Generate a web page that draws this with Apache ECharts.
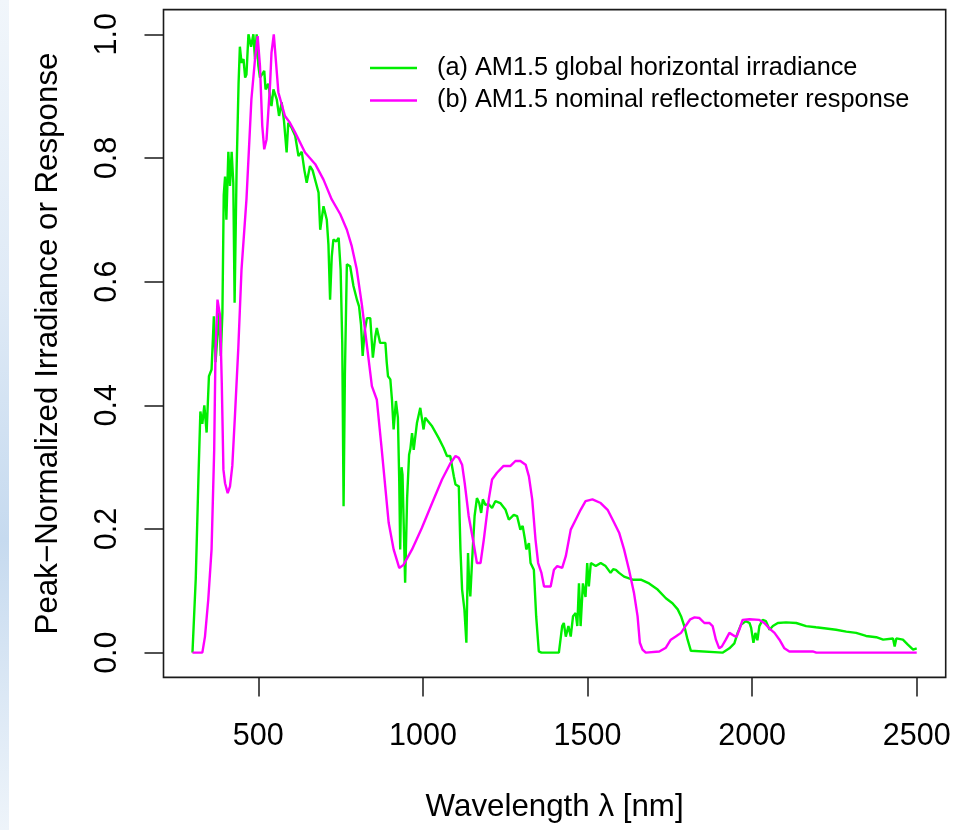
<!DOCTYPE html>
<html>
<head>
<meta charset="utf-8">
<script src="https://cdn.jsdelivr.net/npm/echarts@6/dist/echarts.min.js"></script>
<style>
  html, body { margin: 0; padding: 0; background: #fff; }
  #chart { width: 965px; height: 830px; }
</style>
</head>
<body>
<div id="chart"></div>
<script>
// (a) AM1.5 global horizontal irradiance, peak normalized
const irrWl = [300, 310, 318, 324, 330, 336, 343, 350, 358, 365, 370, 376, 381, 386, 391, 395, 399, 403, 409, 414,
  419, 424, 428, 434, 440, 444, 449, 455, 460, 464, 470, 478, 485, 490, 495, 500, 505, 510, 518, 522,
  530, 540, 546, 556, 563, 571, 578, 586, 591, 600, 612, 622, 632, 640, 647, 657, 665, 675, 683, 688,
  698, 708, 713, 718, 723, 728, 737, 744, 750, 755, 759, 763, 769, 779, 789, 800, 806, 812, 817, 823,
  830, 840, 848, 855, 860, 870, 886, 890, 894, 901, 906, 911, 918, 924, 928, 931, 935, 938, 942, 946,
  952, 958, 962, 967, 972, 982, 992, 997, 1002, 1007, 1012, 1028, 1048, 1063, 1073, 1083, 1094, 1099, 1104, 1109,
  1114, 1119, 1126, 1132, 1137, 1140, 1144, 1149, 1157, 1164, 1171, 1177, 1182, 1190, 1200, 1210, 1220, 1235, 1251, 1261,
  1276, 1286, 1296, 1303, 1310, 1314, 1322, 1327, 1337, 1344, 1352, 1360, 1413, 1423, 1428, 1434, 1442, 1449, 1456, 1464,
  1469, 1474, 1479, 1486, 1494, 1499, 1504, 1510, 1525, 1540, 1555, 1570, 1578, 1586, 1596, 1611, 1637, 1662, 1687, 1713,
  1738, 1758, 1774, 1784, 1794, 1804, 1814, 1820, 1910, 1931, 1946, 1956, 1966, 1981, 1992, 1997, 2004, 2010, 2016, 2022,
  2032, 2042, 2053, 2063, 2078, 2103, 2134, 2164, 2194, 2225, 2255, 2286, 2316, 2346, 2377, 2398, 2428, 2433, 2438, 2458,
  2473, 2489, 2500];
const irrVal = [0, 0.12, 0.28, 0.39, 0.37, 0.40, 0.356, 0.447, 0.458, 0.544, 0.47, 0.47, 0.55, 0.48, 0.55, 0.74, 0.77, 0.70, 0.81, 0.755,
  0.81, 0.76, 0.566, 0.78, 0.92, 0.98, 0.954, 0.96, 0.93, 0.935, 1.0, 0.98, 1.0, 0.96, 1.0, 0.95, 0.93, 0.927, 0.941, 0.911,
  0.92, 0.884, 0.911, 0.895, 0.868, 0.89, 0.86, 0.809, 0.857, 0.85, 0.836, 0.803, 0.81, 0.78, 0.76, 0.787, 0.78, 0.76, 0.744, 0.684,
  0.722, 0.70, 0.66, 0.571, 0.64, 0.668, 0.665, 0.671, 0.62, 0.50, 0.237, 0.45, 0.628, 0.625, 0.593, 0.57, 0.56, 0.53, 0.48, 0.52,
  0.541, 0.541, 0.477, 0.51, 0.525, 0.501, 0.501, 0.47, 0.447, 0.442, 0.409, 0.361, 0.407, 0.38, 0.28, 0.167, 0.30, 0.288, 0.20, 0.113,
  0.25, 0.32, 0.33, 0.355, 0.328, 0.372, 0.396, 0.396, 0.361, 0.38, 0.382, 0.366, 0.347, 0.331, 0.318, 0.318, 0.285, 0.272, 0.274, 0.269,
  0.167, 0.102, 0.07, 0.016, 0.161, 0.12, 0.091, 0.145, 0.221, 0.25, 0.242, 0.226, 0.248, 0.239, 0.24, 0.234, 0.245, 0.242, 0.231, 0.215,
  0.223, 0.221, 0.199, 0.205, 0.183, 0.167, 0.177, 0.145, 0.134, 0.059, 0.002, 0, 0, 0.043, 0.048, 0.026, 0.043, 0.026, 0.059, 0.064,
  0.043, 0.112, 0.043, 0.112, 0.09, 0.145, 0.107, 0.145, 0.14, 0.145, 0.14, 0.129, 0.135, 0.134, 0.129, 0.123, 0.118, 0.118, 0.112, 0.102,
  0.088, 0.08, 0.07, 0.059, 0.043, 0.021, 0.003, 0, 0, 0.007, 0.015, 0.032, 0.045, 0.051, 0.048, 0.04, 0.016, 0.032, 0.02, 0.043,
  0.053, 0.051, 0.037, 0.043, 0.048, 0.049, 0.048, 0.043, 0.041, 0.039, 0.037, 0.034, 0.032, 0.027, 0.025, 0.021, 0.023, 0.01, 0.023, 0.021,
  0.013, 0.005, 0.007];

// (b) AM1.5 nominal reflectometer response, peak normalized
const respWl = [300, 330, 338, 348, 358, 366, 370, 376, 384, 389, 394, 399, 407, 414, 421, 429, 439, 449, 464, 479,
  490, 498, 505, 512, 518, 525, 536, 540, 547, 553, 561, 581, 596, 612, 642, 673, 698, 723, 749, 769,
  784, 799, 815, 830, 845, 860, 875, 896, 911, 928, 941, 967, 997, 1028, 1058, 1083, 1099, 1109, 1119, 1127,
  1139, 1154, 1164, 1175, 1185, 1200, 1210, 1225, 1245, 1266, 1281, 1296, 1312, 1322, 1332, 1342, 1350, 1360, 1368, 1388,
  1398, 1408, 1423, 1434, 1449, 1464, 1479, 1494, 1515, 1540, 1561, 1581, 1596, 1611, 1626, 1641, 1652, 1659, 1667, 1677,
  1718, 1738, 1753, 1768, 1784, 1799, 1812, 1825, 1840, 1855, 1870, 1880, 1890, 1900, 1908, 1920, 1931, 1946, 1953, 1961,
  1971, 1992, 2022, 2037, 2053, 2068, 2083, 2098, 2113, 2184, 2195, 2500];
const respVal = [0, 0, 0.026, 0.086, 0.167, 0.328, 0.49, 0.571, 0.544, 0.436, 0.296, 0.274, 0.258, 0.269, 0.302, 0.383, 0.49, 0.62, 0.733, 0.895,
  0.96, 0.997, 0.949, 0.852, 0.814, 0.83, 0.922, 0.97, 1.0, 0.96, 0.906, 0.868, 0.857, 0.841, 0.809, 0.79, 0.765, 0.733, 0.709, 0.684,
  0.657, 0.62, 0.561, 0.496, 0.431, 0.409, 0.328, 0.21, 0.167, 0.137, 0.142, 0.167, 0.202, 0.242, 0.28, 0.306, 0.318, 0.315, 0.304, 0.274,
  0.221, 0.177, 0.145, 0.145, 0.183, 0.248, 0.28, 0.291, 0.302, 0.302, 0.31, 0.31, 0.304, 0.285, 0.248, 0.183, 0.145, 0.129, 0.107, 0.107,
  0.134, 0.14, 0.137, 0.156, 0.199, 0.215, 0.231, 0.245, 0.248, 0.242, 0.231, 0.21, 0.194, 0.167, 0.134, 0.097, 0.059, 0.016, 0.005, 0,
  0.002, 0.008, 0.021, 0.026, 0.032, 0.044, 0.054, 0.057, 0.056, 0.048, 0.048, 0.043, 0.021, 0.007, 0.01, 0.021, 0.032, 0.027, 0.026, 0.037,
  0.053, 0.054, 0.053, 0.048, 0.039, 0.032, 0.021, 0.007, 0.002, 0.002, 0, 0];

const xTicks = [500, 1000, 1500, 2000, 2500];
const yTicks = [0, 0.2, 0.4, 0.6, 0.8, 1.0];
const yTickLabels = ['0.0', '0.2', '0.4', '0.6', '0.8', '1.0'];
const seriesNames = ['(a) AM1.5 global horizontal irradiance', '(b) AM1.5 nominal reflectometer response'];

const FONT = 'Liberation Sans, Arial, Helvetica, sans-serif';

function pairs(xs, ys) {
  return xs.map((x, i) => [x, ys[i]]);
}

const chart = echarts.init(document.getElementById('chart'), null, { width: 965, height: 830 });

chart.setOption({
  animation: false,
  backgroundColor: '#fff',
  textStyle: { fontFamily: FONT },
  grid: {
    left: 163.5,
    right: 19.3,
    top: 9.6,
    bottom: 152.6,
    show: true,
    borderColor: '#1a1a1a',
    borderWidth: 1.6,
    backgroundColor: 'transparent'
  },
  graphic: [
    {
      type: 'rect',
      left: 0,
      top: 0,
      shape: { width: 9, height: 830 },
      style: {
        fill: new echarts.graphic.LinearGradient(0, 0, 0, 1, [
          { offset: 0, color: '#f1f6fb' },
          { offset: 0.35, color: '#dfeaf6' },
          { offset: 0.65, color: '#c6daef' },
          { offset: 1, color: '#eef4fa' }
        ])
      },
      silent: true
    }
  ],
  legend: {
    orient: 'vertical',
    left: 370,
    top: 55.5,
    icon: 'rect',
    itemWidth: 47,
    itemHeight: 2.5,
    itemGap: 7.5,
    padding: 0,
    data: seriesNames,
    textStyle: {
      fontFamily: FONT,
      fontSize: 25.3,
      lineHeight: 25,
      color: '#000',
      padding: [0, 0, 0, 15]
    }
  },
  xAxis: {
    type: 'value',
    min: 212,
    max: 2588,
    name: 'Wavelength λ [nm]',
    nameLocation: 'middle',
    nameGap: 114,
    nameTextStyle: { fontFamily: FONT, fontSize: 31.3, color: '#000' },
    axisLine: { show: false, onZero: false },
    splitLine: { show: false },
    axisTick: {
      show: true,
      inside: false,
      length: 19,
      customValues: xTicks,
      lineStyle: { color: '#1a1a1a', width: 1.5 }
    },
    axisLabel: {
      customValues: xTicks,
      margin: 44,
      fontFamily: FONT,
      fontSize: 30.5,
      color: '#000',
      formatter: (v) => String(v)
    }
  },
  yAxis: {
    type: 'value',
    min: -0.04,
    max: 1.04,
    name: 'Peak\u2212Normalized Irradiance or Response',
    nameLocation: 'middle',
    nameGap: 100,
    nameRotate: 90,
    nameTextStyle: { fontFamily: FONT, fontSize: 31.3, color: '#000' },
    axisLine: { show: false, onZero: false },
    splitLine: { show: false },
    axisTick: {
      show: true,
      inside: false,
      length: 19,
      customValues: yTicks,
      lineStyle: { color: '#1a1a1a', width: 1.5 }
    },
    axisLabel: {
      customValues: yTicks,
      rotate: 90,
      margin: 40,
      fontFamily: FONT,
      fontSize: 30.5,
      color: '#000',
      formatter: (v) => {
        const i = yTicks.findIndex((t) => Math.abs(t - v) < 1e-9);
        return i >= 0 ? yTickLabels[i] : v.toFixed(1);
      }
    }
  },
  series: [
    {
      name: seriesNames[0],
      type: 'line',
      data: pairs(irrWl, irrVal),
      symbol: 'none',
      lineStyle: { color: '#00ee00', width: 2.4 },
      itemStyle: { color: '#00ee00' }
    },
    {
      name: seriesNames[1],
      type: 'line',
      data: pairs(respWl, respVal),
      symbol: 'none',
      lineStyle: { color: '#ff00ff', width: 2.4 },
      itemStyle: { color: '#ff00ff' }
    }
  ]
});
</script>
</body>
</html>
